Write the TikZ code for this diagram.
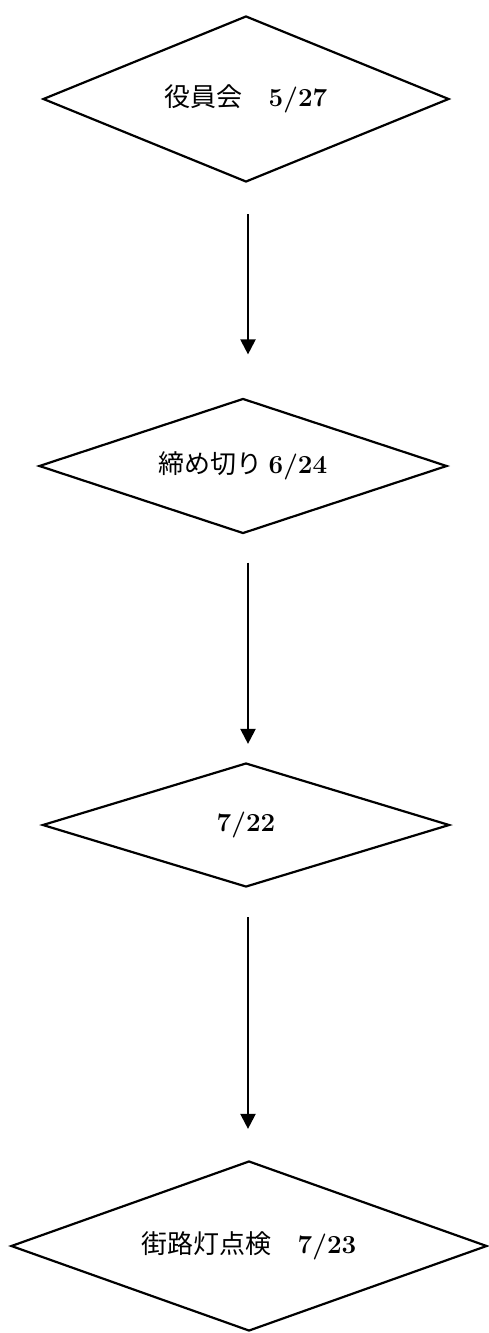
\documentclass[tikz,border=0pt]{standalone}
\usepackage{fontspec}
\newfontfamily\jp{Noto Sans CJK JP}
\usepackage{tikz}
\usetikzlibrary{shapes.geometric,arrows.meta,positioning}

\begin{document}
\begin{tikzpicture}[
        x=1pt, y=-1pt,
        milestone/.style={
            diamond,
            draw,
            line width=2.2pt,
            shape aspect=3,
            inner sep=0pt,
            font=\fontsize{26}{30}\selectfont
        },
        flow/.style={
            line width=2.2pt,
            -{Triangle[width=15pt,length=15pt]}
        }
    ]

                \useasboundingbox (0,0) rectangle (489,1333);

                \node[
                    milestone,
                    minimum width=406pt,
                    minimum height=166pt
                ] (kaigi) at (246,99) {{\jp 役員会　}\textbf{5/27}};

                \node[
                    milestone,
                    minimum width=408pt,
                    minimum height=135pt
                ] (shime) at (243,466) {{\jp 締め切り }\textbf{6/24}};

                \node[
                    milestone,
                    minimum width=407pt,
                    minimum height=124pt
                ] (hi) at (246,825) {\textbf{7/22}};

                \node[
                    milestone,
                    minimum width=476pt,
                    minimum height=170pt
                ] (tenken) at (249,1246) {{\jp 街路灯点検　}\textbf{7/23}};

                \coordinate (axis) at (248,0);

                \draw[flow, shorten <=31pt, shorten >=43pt]
                    (kaigi.south -| axis) -- (shime.north -| axis);
                \draw[flow, shorten <=28pt, shorten >=18pt]
                    (shime.south -| axis) -- (hi.north -| axis);
                \draw[flow, shorten <=29pt, shorten >=31pt]
                    (hi.south -| axis) -- (tenken.north -| axis);

            \end{tikzpicture}
\end{document}
